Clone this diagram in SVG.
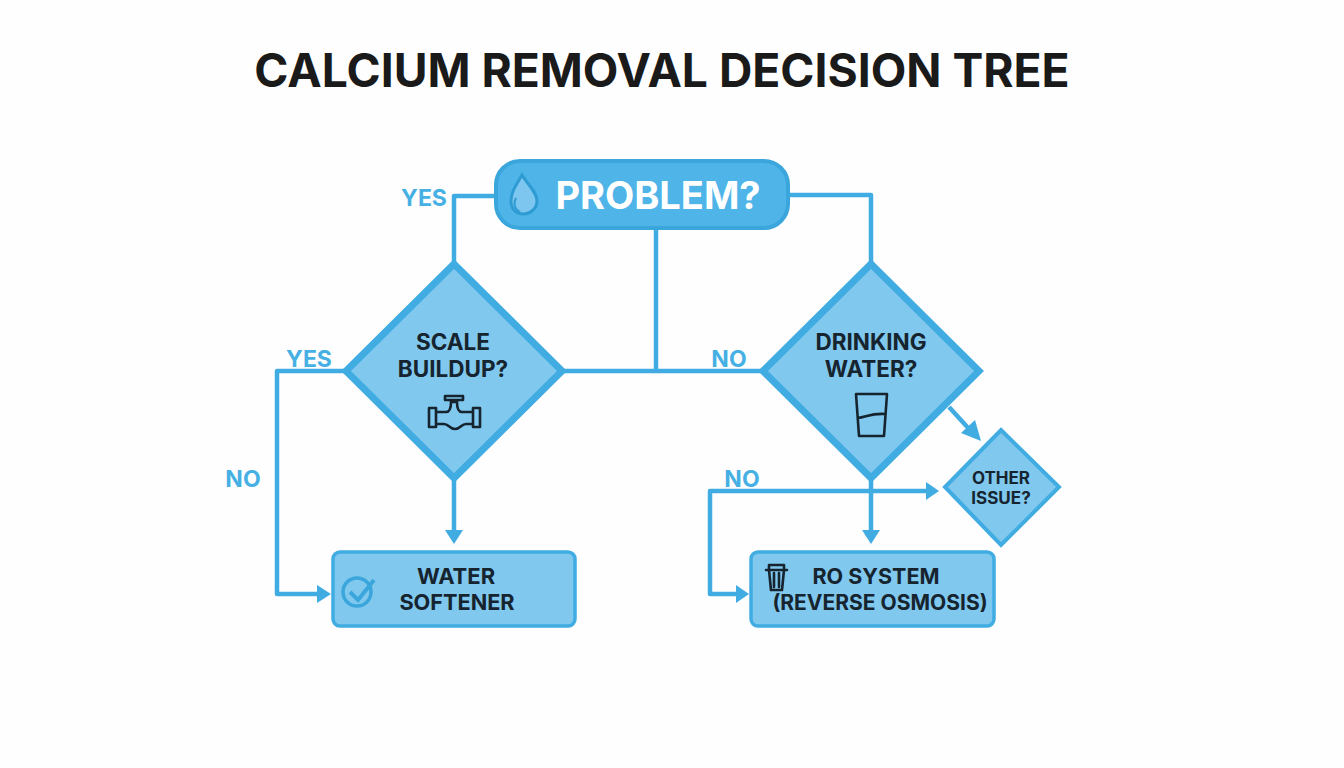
<svg xmlns="http://www.w3.org/2000/svg" width="1344" height="768" viewBox="0 0 1344 768">
<style>
.t{font-family:"Inter","Liberation Sans",Arial,sans-serif;font-weight:700;text-anchor:middle}
.d{fill:#16242f}
.l{fill:#46b0e4;font-size:23px}
.c{fill:none;stroke:#40ace2;stroke-width:4.5;stroke-linejoin:round}
.a{fill:#40ace2}
.n{fill:#80c8ee;stroke:#40ace2}
.i{fill:none;stroke:#16242f;stroke-width:2.6;stroke-linejoin:round;stroke-linecap:round}
</style>
<rect width="1344" height="768" fill="#fefefe"/>
<text class="t" x="662" y="87" font-size="46.2" fill="#1a1a1a" id="title">CALCIUM REMOVAL DECISION TREE</text>
<g id="connectors">
<path class="c" d="M496 196H454V262"/>
<path class="c" d="M788 195H871V262"/>
<path class="c" d="M656 228V371"/>
<path class="c" d="M562 371H762"/>
<path class="c" d="M346 371H277V594H318"/>
<path class="c" d="M454 478V531"/>
<polygon class="a" points="445,530 463,530 454,544"/>
<polygon class="a" points="317,585 317,603 331,594"/>
<path class="c" d="M871 478V531"/>
<polygon class="a" points="862,530 880,530 871,544"/>
<path class="c" d="M871 491H710V594H737"/>
<polygon class="a" points="736,585 736,603 749,594"/>
<path class="c" d="M871 491H927"/>
<polygon class="a" points="926,482 926,500 939,491"/>
<path class="c" d="M949 407L970 430"/>
<polygon class="a" points="961,433 975,420 981,441"/>
</g>
<g id="node-problem">
<rect x="496" y="161" width="292" height="67" rx="24" fill="#4fb4e8" stroke="#3aa6dc" stroke-width="4"/>
<path d="M522 175C516 185 511 192 511 201C511 209 516 214 523 214C530 214 537 209 537 201C537 192 528 185 522 175Z" fill="#7cc6f0" stroke="#2f9bd3" stroke-width="3"/>
<path d="M516 198C513 204 515 209 520 212" fill="none" stroke="#2f9bd3" stroke-width="2"/>
<text class="t" x="658" y="209" font-size="38" fill="#fff">PROBLEM?</text>
</g>
<g id="node-scale">
<polygon class="n" stroke-width="7" points="454,264 562,371 454,478 346,371"/>
<text class="t d" x="453" y="350" font-size="22.5">SCALE</text>
<text class="t d" x="453" y="377" font-size="22.5">BUILDUP?</text>
<path class="i" d="M429 408H436V427H429ZM473 408H480V427H473ZM436 412H446C450 412 451 408 451 402H457C457 408 458 412 462 412H473M436 424H444C449 424 449 429 455 429C461 429 461 424 466 424H473M445 396H463V400H445ZM451 400V402M457 400V402"/>
</g>
<g id="node-drinking">
<polygon class="n" stroke-width="7" points="871,264 979,371 871,478 763,371"/>
<text class="t d" x="871" y="350" font-size="22.5">DRINKING</text>
<text class="t d" x="871" y="377" font-size="22.5">WATER?</text>
<path class="i" d="M856 394H887L884 436H859ZM858 418C866 417 872 413 885 414"/>
</g>
<g id="node-other">
<polygon class="n" stroke-width="4" points="1001,430 1059,487 1001,545 945,487"/>
<text class="t d" x="1001" y="484" font-size="17">OTHER</text>
<text class="t d" x="1001" y="504" font-size="17">ISSUE?</text>
</g>
<g id="node-softener">
<rect class="n" x="333" y="552" width="242" height="74" rx="7" stroke-width="3.5"/>
<circle cx="357" cy="592" r="14" fill="none" stroke="#3aa6dc" stroke-width="3.5"/>
<path d="M350 592L358 600L374 580" fill="none" stroke="#3aa6dc" stroke-width="4"/>
<text class="t d" x="456" y="584" font-size="22">WATER</text>
<text class="t d" x="457" y="610" font-size="21.7">SOFTENER</text>
</g>
<g id="node-ro">
<rect class="n" x="751" y="552" width="243" height="74" rx="7" stroke-width="3.5"/>
<path class="i" d="M766 570H787M769 570L771 590H782L784 570M769 565H784V570H769ZM774 573V587M779 573V587"/>
<text class="t d" x="876" y="584" font-size="21.5">RO SYSTEM</text>
<text class="t d" x="880" y="610" font-size="21">(REVERSE OSMOSIS)</text>
</g>
<g id="labels">
<text class="t l" x="424" y="206">YES</text>
<text class="t l" x="309" y="367">YES</text>
<text class="t l" x="243" y="487">NO</text>
<text class="t l" x="729" y="367">NO</text>
<text class="t l" x="742" y="487">NO</text>
</g>
</svg>
